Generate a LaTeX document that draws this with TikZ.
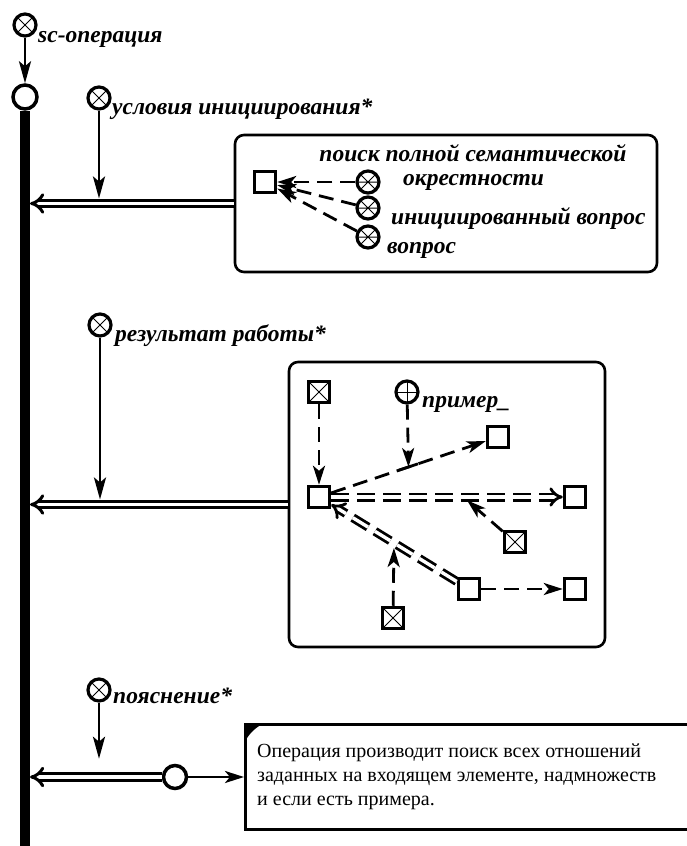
\documentclass[tikz,border=0pt]{standalone}
\usepackage{fontspec}
\setmainfont{Liberation Serif}
\usetikzlibrary{arrows.meta,calc}
\begin{document}
\begin{tikzpicture}[x=1pt,y=-1pt,
  lw/.style={line width=2.8pt},
  arr/.style={lw,-{Stealth[length=22pt,width=12pt,inset=5pt]}},
  sarr/.style={lw,-{Stealth[length=19pt,width=12pt,inset=5pt]}},
  dsh/.style={dash pattern=on 15pt off 8pt},
  dbl/.style={line width=3pt,double distance=3.6pt,-{Implies[length=14pt,width=20pt]}},
  dbld/.style={line width=2.8pt,double distance=3.4pt,dash pattern=on 18pt off 8pt,-{Implies[length=12pt,width=17pt]}},
  mk/.style={circle,draw,line width=3.2pt,minimum size=22pt,inner sep=0pt,fill=white,
    path picture={\draw[line width=1pt] (path picture bounding box.north west) -- (path picture bounding box.south east)
      (path picture bounding box.north east) -- (path picture bounding box.south west);}},
  mks/.style={mk,path picture={\draw[line width=1pt] (path picture bounding box.north west) -- (path picture bounding box.south east)
      (path picture bounding box.north east) -- (path picture bounding box.south west)
      (path picture bounding box.west) -- (path picture bounding box.east);}},
  mkp/.style={circle,draw,line width=3.2pt,minimum size=22pt,inner sep=0pt,fill=white,
    path picture={\draw[line width=1pt] (path picture bounding box.north) -- (path picture bounding box.south)
      (path picture bounding box.west) -- (path picture bounding box.east);}},
  ring/.style={circle,draw,line width=3.5pt,minimum size=24pt,inner sep=0pt,fill=white},
  sq/.style={draw,line width=3.5pt,minimum size=21pt,inner sep=0pt,fill=white},
  xsq/.style={sq,path picture={\draw[line width=0.9pt] (path picture bounding box.north west) -- (path picture bounding box.south east)
      (path picture bounding box.north east) -- (path picture bounding box.south west);}},
  bx/.style={draw,line width=2.6pt,rounded corners=9pt,inner sep=0pt},
  lbl/.style={font=\fontsize{23.5}{26}\selectfont\bfseries\itshape,inner sep=0pt},
  txt/.style={font=\fontsize{20}{24}\selectfont,inner sep=0pt,anchor=base west},
]
\useasboundingbox (0,0) rectangle (686,846);
\coordinate (barR) at (30,0);

% top
\node[mk] (m0) at (25,25) {};
\node[lbl,anchor=base west] (l0) at (38,42) {sc-операция};
\node[ring] (c0) at (25,97) {};
\draw[arr] (m0) -- (c0);
\coordinate (barEnd) at (25,850);
\draw[line width=10pt] (c0.south) -- (barEnd);

% block 1
\node[mk] (m1) at (99,98) {};
\node[lbl,anchor=base west] (l1) at (112,114) {условия инициирования*};
\node[bx,minimum width=422pt,minimum height=137pt] (b1) at (446,203.5) {};
\draw[dbl] (b1.west) -- (b1.west -| barR);
\draw[arr,shorten >=5pt] (m1) -- (m1 |- b1.west);
\node[sq] (s1) at (265,182) {};
\node[mks] (a1) at (368,182) {};
\node[mks] (a2) at (368,208) {};
\node[mks] (a3) at (368,237) {};
\draw[sarr,dsh] (a1) -- (s1);
\draw[sarr,dsh] (a2) -- (s1);
\draw[sarr,dsh] (a3) -- (s1);
\node[lbl] (t1a) at (473,153) {поиск полной семантической};
\node[lbl,anchor=west] (t1b) at (403,182) {окрестности};
\node[lbl,anchor=west] (t1c) at (391,219) {инициированный вопрос};
\node[lbl,anchor=west] (t1d) at (387,250) {вопрос};

% block 2
\node[mk] (m2) at (100,325) {};
\node[lbl,anchor=base west] (l2) at (115,341) {результат работы*};
\node[bx,minimum width=316pt,minimum height=285pt] (b2) at (447,504.5) {};
\draw[dbl] (b2.west) -- (b2.west -| barR);
\draw[arr,shorten >=5pt] (m2) -- (m2 |- b2.west);
\node[xsq] (t2) at (319,392) {};
\node[mkp] (pc) at (407,392) {};
\node[lbl,anchor=base west] (l2p) at (422,407) {пример\_};
\node[sq] (main) at (319,497) {};
\node[sq] (sqA) at (498,437) {};
\node[sq] (sqR) at (575,497) {};
\node[xsq] (q1) at (515,542) {};
\node[sq] (sqB) at (469,589) {};
\node[sq] (sqC) at (575,589) {};
\node[xsq] (q2) at (393,618) {};
\draw[sarr,dsh] (t2) -- (main);
\draw[sarr,dsh] (main) -- (sqA) coordinate[pos=0.5] (mid1);
\draw[line width=2.8pt] ($(mid1)!10pt!(main)$) -- ($(mid1)!10pt!(sqA)$);
\draw[sarr,dsh] (pc) -- (mid1);
\draw[dbld] (main) -- (sqR) coordinate[pos=0.57] (mid2);
\draw[sarr,dsh,shorten >=5pt] (q1) -- (mid2);
\draw[dbld] (sqB) -- (main) coordinate[pos=0.5] (mid3);
\draw[sarr,dsh,shorten >=5pt] (q2) -- (mid3);
\draw[sarr,dsh] (sqB) -- (sqC);

% block 3
\node[mk] (m3) at (99,690) {};
\node[lbl,anchor=base west] (l3) at (113,703) {пояснение*};
\node[ring,minimum size=23pt] (c3) at (175,777) {};
\node[draw,line width=2.6pt,minimum width=450pt,minimum height=105pt,anchor=north west,inner sep=0pt] (b3) at (244,723) {};
\fill (b3.north west) -- ++(22,0) .. controls ++(-9,2) and ++(2,-9) .. ($(b3.north west)+(0,22)$) -- cycle;
\draw[dbl] (c3.west) -- (c3.west -| barR);
\draw[arr,shorten >=5pt] (m3) -- (m3 |- c3.north);
\draw[sarr] (c3.east) -- (c3.east -| b3.west);
\node[txt] (b3t1) at (257,757) {Операция производит поиск всех отношений};
\node[txt] (b3t2) at (257,781) {заданных на входящем элементе, надмножеств};
\node[txt] (b3t3) at (257,805) {и если есть примера.};
\end{tikzpicture}
\end{document}
